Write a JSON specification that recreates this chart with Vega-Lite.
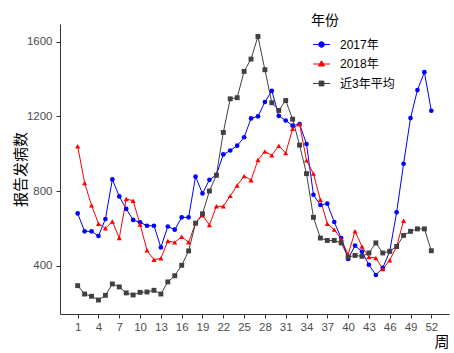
{
  "$schema": "https://vega.github.io/schema/vega-lite/v6.json",
  "width": 389,
  "height": 290,
  "autosize": {"type": "none"},
  "padding": {"left": 60, "top": 24, "right": 5, "bottom": 39},
  "background": "white",
  "config": {
    "view": {"stroke": null},
    "axis": {
      "grid": false,
      "domainColor": "#333333",
      "tickColor": "#333333",
      "tickSize": 4,
      "labelColor": "#4d4d4d",
      "labelFont": "Liberation Sans",
      "labelFontSize": 11.5,
      "titleFont": "Noto Sans CJK SC",
      "titleFontSize": 15,
      "titleFontWeight": "normal",
      "titleColor": "#000000"
    },
    "legend": {
      "titleFont": "Noto Sans CJK SC",
      "titleFontSize": 14,
      "titleFontWeight": "normal",
      "titleColor": "#000000",
      "labelFont": "Liberation Sans, Noto Sans CJK SC",
      "labelFontSize": 12,
      "labelColor": "#000000"
    }
  },
  "data": {
    "values": [
      {"week": 1, "series": "2017年", "value": 680},
      {"week": 2, "series": "2017年", "value": 584},
      {"week": 3, "series": "2017年", "value": 584},
      {"week": 4, "series": "2017年", "value": 559},
      {"week": 5, "series": "2017年", "value": 650},
      {"week": 6, "series": "2017年", "value": 862},
      {"week": 7, "series": "2017年", "value": 771},
      {"week": 8, "series": "2017年", "value": 704},
      {"week": 9, "series": "2017年", "value": 645},
      {"week": 10, "series": "2017年", "value": 632},
      {"week": 11, "series": "2017年", "value": 614},
      {"week": 12, "series": "2017年", "value": 614},
      {"week": 13, "series": "2017年", "value": 498},
      {"week": 14, "series": "2017年", "value": 610},
      {"week": 15, "series": "2017年", "value": 593},
      {"week": 16, "series": "2017年", "value": 659},
      {"week": 17, "series": "2017年", "value": 659},
      {"week": 18, "series": "2017年", "value": 877},
      {"week": 19, "series": "2017年", "value": 787},
      {"week": 20, "series": "2017年", "value": 860},
      {"week": 21, "series": "2017年", "value": 887},
      {"week": 22, "series": "2017年", "value": 996},
      {"week": 23, "series": "2017年", "value": 1017},
      {"week": 24, "series": "2017年", "value": 1043},
      {"week": 25, "series": "2017年", "value": 1088},
      {"week": 26, "series": "2017年", "value": 1189},
      {"week": 27, "series": "2017年", "value": 1200},
      {"week": 28, "series": "2017年", "value": 1277},
      {"week": 29, "series": "2017年", "value": 1337},
      {"week": 30, "series": "2017年", "value": 1203},
      {"week": 31, "series": "2017年", "value": 1178},
      {"week": 32, "series": "2017年", "value": 1150},
      {"week": 33, "series": "2017年", "value": 1159},
      {"week": 34, "series": "2017年", "value": 1052},
      {"week": 35, "series": "2017年", "value": 780},
      {"week": 36, "series": "2017年", "value": 725},
      {"week": 37, "series": "2017年", "value": 732},
      {"week": 38, "series": "2017年", "value": 634},
      {"week": 39, "series": "2017年", "value": 548},
      {"week": 40, "series": "2017年", "value": 436},
      {"week": 41, "series": "2017年", "value": 507},
      {"week": 42, "series": "2017年", "value": 475},
      {"week": 43, "series": "2017年", "value": 405},
      {"week": 44, "series": "2017年", "value": 350},
      {"week": 45, "series": "2017年", "value": 388},
      {"week": 46, "series": "2017年", "value": 477},
      {"week": 47, "series": "2017年", "value": 686},
      {"week": 48, "series": "2017年", "value": 946},
      {"week": 49, "series": "2017年", "value": 1191},
      {"week": 50, "series": "2017年", "value": 1341},
      {"week": 51, "series": "2017年", "value": 1437},
      {"week": 52, "series": "2017年", "value": 1230},
      {"week": 1, "series": "2018年", "value": 1040},
      {"week": 2, "series": "2018年", "value": 843},
      {"week": 3, "series": "2018年", "value": 723},
      {"week": 4, "series": "2018年", "value": 625},
      {"week": 5, "series": "2018年", "value": 600},
      {"week": 6, "series": "2018年", "value": 637},
      {"week": 7, "series": "2018年", "value": 548},
      {"week": 8, "series": "2018年", "value": 757},
      {"week": 9, "series": "2018年", "value": 748},
      {"week": 10, "series": "2018年", "value": 621},
      {"week": 11, "series": "2018年", "value": 482},
      {"week": 12, "series": "2018年", "value": 432},
      {"week": 13, "series": "2018年", "value": 439},
      {"week": 14, "series": "2018年", "value": 532},
      {"week": 15, "series": "2018年", "value": 525},
      {"week": 16, "series": "2018年", "value": 555},
      {"week": 17, "series": "2018年", "value": 525},
      {"week": 18, "series": "2018年", "value": 628},
      {"week": 19, "series": "2018年", "value": 670},
      {"week": 20, "series": "2018年", "value": 618},
      {"week": 21, "series": "2018年", "value": 718},
      {"week": 22, "series": "2018年", "value": 718},
      {"week": 23, "series": "2018年", "value": 774},
      {"week": 24, "series": "2018年", "value": 830},
      {"week": 25, "series": "2018年", "value": 880},
      {"week": 26, "series": "2018年", "value": 858},
      {"week": 27, "series": "2018年", "value": 966},
      {"week": 28, "series": "2018年", "value": 1012},
      {"week": 29, "series": "2018年", "value": 991},
      {"week": 30, "series": "2018年", "value": 1043},
      {"week": 31, "series": "2018年", "value": 1003},
      {"week": 32, "series": "2018年", "value": 1134},
      {"week": 33, "series": "2018年", "value": 1159},
      {"week": 34, "series": "2018年", "value": 964},
      {"week": 35, "series": "2018年", "value": 893},
      {"week": 36, "series": "2018年", "value": 753},
      {"week": 37, "series": "2018年", "value": 625},
      {"week": 38, "series": "2018年", "value": 593},
      {"week": 39, "series": "2018年", "value": 543},
      {"week": 40, "series": "2018年", "value": 459},
      {"week": 41, "series": "2018年", "value": 584},
      {"week": 42, "series": "2018年", "value": 503},
      {"week": 43, "series": "2018年", "value": 446},
      {"week": 44, "series": "2018年", "value": 441},
      {"week": 45, "series": "2018年", "value": 382},
      {"week": 46, "series": "2018年", "value": 429},
      {"week": 47, "series": "2018年", "value": 503},
      {"week": 48, "series": "2018年", "value": 641},
      {"week": 1, "series": "近3年平均", "value": 293},
      {"week": 2, "series": "近3年平均", "value": 248},
      {"week": 3, "series": "近3年平均", "value": 236},
      {"week": 4, "series": "近3年平均", "value": 216},
      {"week": 5, "series": "近3年平均", "value": 241},
      {"week": 6, "series": "近3年平均", "value": 302},
      {"week": 7, "series": "近3年平均", "value": 286},
      {"week": 8, "series": "近3年平均", "value": 254},
      {"week": 9, "series": "近3年平均", "value": 243},
      {"week": 10, "series": "近3年平均", "value": 257},
      {"week": 11, "series": "近3年平均", "value": 259},
      {"week": 12, "series": "近3年平均", "value": 268},
      {"week": 13, "series": "近3年平均", "value": 248},
      {"week": 14, "series": "近3年平均", "value": 313},
      {"week": 15, "series": "近3年平均", "value": 346},
      {"week": 16, "series": "近3年平均", "value": 402},
      {"week": 17, "series": "近3年平均", "value": 479},
      {"week": 18, "series": "近3年平均", "value": 628},
      {"week": 19, "series": "近3年平均", "value": 678},
      {"week": 20, "series": "近3年平均", "value": 800},
      {"week": 21, "series": "近3年平均", "value": 884},
      {"week": 22, "series": "近3年平均", "value": 1114},
      {"week": 23, "series": "近3年平均", "value": 1294},
      {"week": 24, "series": "近3年平均", "value": 1300},
      {"week": 25, "series": "近3年平均", "value": 1441},
      {"week": 26, "series": "近3年平均", "value": 1507},
      {"week": 27, "series": "近3年平均", "value": 1628},
      {"week": 28, "series": "近3年平均", "value": 1450},
      {"week": 29, "series": "近3年平均", "value": 1273},
      {"week": 30, "series": "近3年平均", "value": 1232},
      {"week": 31, "series": "近3年平均", "value": 1285},
      {"week": 32, "series": "近3年平均", "value": 1185},
      {"week": 33, "series": "近3年平均", "value": 1046},
      {"week": 34, "series": "近3年平均", "value": 893},
      {"week": 35, "series": "近3年平均", "value": 659},
      {"week": 36, "series": "近3年平均", "value": 548},
      {"week": 37, "series": "近3年平均", "value": 535},
      {"week": 38, "series": "近3年平均", "value": 535},
      {"week": 39, "series": "近3年平均", "value": 522},
      {"week": 40, "series": "近3年平均", "value": 446},
      {"week": 41, "series": "近3年平均", "value": 455},
      {"week": 42, "series": "近3年平均", "value": 450},
      {"week": 43, "series": "近3年平均", "value": 468},
      {"week": 44, "series": "近3年平均", "value": 522},
      {"week": 45, "series": "近3年平均", "value": 468},
      {"week": 46, "series": "近3年平均", "value": 477},
      {"week": 47, "series": "近3年平均", "value": 503},
      {"week": 48, "series": "近3年平均", "value": 562},
      {"week": 49, "series": "近3年平均", "value": 584},
      {"week": 50, "series": "近3年平均", "value": 597},
      {"week": 51, "series": "近3年平均", "value": 597},
      {"week": 52, "series": "近3年平均", "value": 480}
    ]
  },
  "encoding": {
    "x": {
      "field": "week",
      "type": "quantitative",
      "scale": {"domain": [-1.55, 54.55], "nice": false, "zero": false},
      "axis": {
        "values": [1, 4, 7, 10, 13, 16, 19, 22, 25, 28, 31, 34, 37, 40, 43, 46, 49, 52],
        "format": "d",
        "title": "周",
        "titleAnchor": "end",
        "titlePadding": 2,
        "labelPadding": 3
      }
    },
    "y": {
      "field": "value",
      "type": "quantitative",
      "scale": {"domain": [141, 1695], "nice": false, "zero": false},
      "axis": {
        "values": [400, 800, 1200, 1600],
        "format": "d",
        "title": "报告发病数",
        "titlePadding": -2,
        "labelPadding": 4
      }
    },
    "color": {
      "field": "series",
      "type": "nominal",
      "scale": {"domain": ["2017年", "2018年", "近3年平均"], "range": ["#0000ff", "#ff0000", "#404040"]},
      "legend": {
        "title": "年份",
        "orient": "none",
        "legendX": 251,
        "legendY": -10,
        "padding": 0,
        "titlePadding": 6,
        "rowPadding": 2.5,
        "symbolSize": 400,
        "labelOffset": 8,
        "encode": {
          "symbols": {
            "update": {
              "shape": {"signal": "datum.value === '2017年' ? 'M-0.85,0H0.85M-0.28,0A0.28,0.28,0,1,1,0.28,0A0.28,0.28,0,1,1,-0.28,0Z' : datum.value === '2018年' ? 'M-0.85,0H0.85M0,-0.32L0.3,0.2L-0.3,0.2Z' : 'M-0.85,0H0.85M-0.24,-0.24H0.24V0.24H-0.24Z'"},
              "size": {"value": 400},
              "strokeWidth": {"value": 1},
              "fill": {"signal": "scale('color', datum.value)"},
              "stroke": {"signal": "scale('color', datum.value)"},
              "opacity": {"value": 1}
            }
          }
        }
      }
    }
  },
  "layer": [
    {
      "mark": {"type": "line", "strokeWidth": 1}
    },
    {
      "transform": [{"filter": "datum.series === '2017年'"}],
      "mark": {"type": "point", "filled": true, "opacity": 1, "shape": "circle", "size": 22}
    },
    {
      "transform": [{"filter": "datum.series === '2018年'"}],
      "mark": {"type": "point", "filled": true, "opacity": 1, "shape": "triangle-up", "size": 26}
    },
    {
      "transform": [{"filter": "datum.series === '近3年平均'"}],
      "mark": {"type": "point", "filled": true, "opacity": 1, "shape": "square", "size": 24}
    }
  ]
}
